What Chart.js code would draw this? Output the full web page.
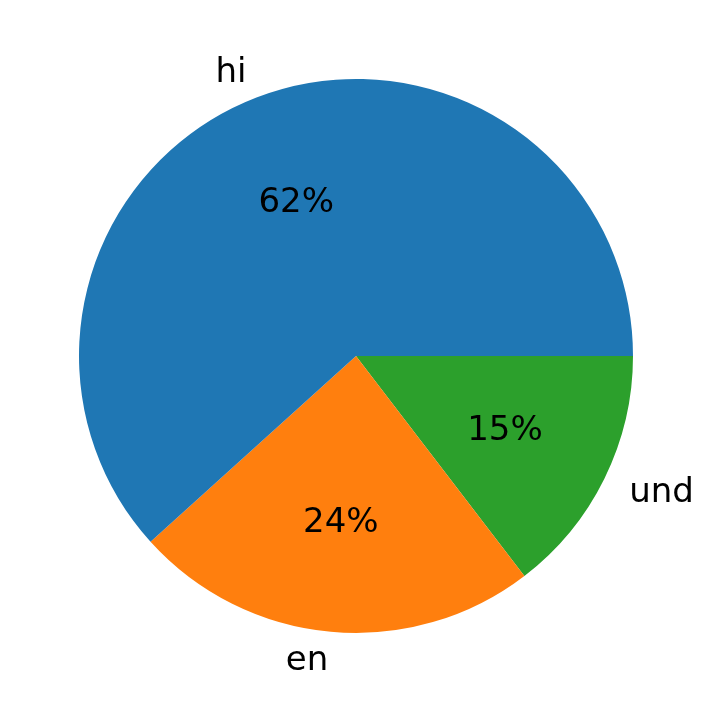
<!DOCTYPE html>
<html lang="en">
<head>
    <meta charset="utf-8">
    <title>Pie chart</title>
    <script src="https://cdn.jsdelivr.net/npm/chart.js@4.4.1/dist/chart.umd.min.js"></script>
    <style>
        html, body { margin: 0; padding: 0; background: #ffffff; }
        #wrap { width: 712px; height: 713px; }
    </style>
</head>
<body>
<div id="wrap"><canvas id="pie-chart"></canvas></div>
<script>
"use strict";

// data in the order matplotlib draws it (counter-clockwise from 3 o'clock)
const languages = ["hi", "en", "und"];
const shares = [61.7, 23.7, 14.6];
const sliceColors = ["#1f77b4", "#ff7f0e", "#2ca02c"];

// chart.js draws clockwise, so reverse to get the same picture
const labelsCw = languages.slice().reverse();
const sharesCw = shares.slice().reverse();
const colorsCw = sliceColors.slice().reverse();

const FONT = "34px 'DejaVu Sans', sans-serif";

// draws the slice labels (outside) and percentages (inside) like autopct
const pieText = {
    id: 'pieText',
    afterDatasetsDraw(chart) {
        const ctx = chart.ctx;
        const meta = chart.getDatasetMeta(0);
        const total = sharesCw.reduce((a, b) => a + b, 0);
        ctx.save();
        ctx.font = FONT;
        ctx.fillStyle = '#000000';
        ctx.textBaseline = 'middle';
        meta.data.forEach((arc, i) => {
            const p = arc.getProps(['x', 'y', 'startAngle', 'endAngle', 'outerRadius'], true);
            const mid = (p.startAngle + p.endAngle) / 2;
            const cx = Math.cos(mid), cy = Math.sin(mid);

            // label at 1.1 r, aligned away from centre
            const lx = p.x + cx * p.outerRadius * 1.1;
            const ly = p.y + cy * p.outerRadius * 1.1 + 2;
            ctx.textAlign = cx >= 0 ? 'left' : 'right';
            ctx.fillText(labelsCw[i], lx, ly);

            // percentage at 0.6 r
            const px = p.x + cx * p.outerRadius * 0.6;
            const py = p.y + cy * p.outerRadius * 0.6 + 2;
            ctx.textAlign = 'center';
            ctx.fillText(Math.round(sharesCw[i] / total * 100) + '%', px, py);
        });
        ctx.restore();
    }
};

new Chart(document.getElementById('pie-chart'), {
    type: 'pie',
    data: {
        labels: labelsCw,
        datasets: [{
            data: sharesCw,
            backgroundColor: colorsCw,
            borderWidth: 0
        }]
    },
    options: {
        responsive: true,
        maintainAspectRatio: false,
        animation: false,
        rotation: 90,
        layout: {
            padding: { left: 79, right: 79, top: 79, bottom: 80 }
        },
        plugins: {
            legend: { display: false },
            tooltip: { enabled: false }
        }
    },
    plugins: [pieText]
});
</script>
</body>
</html>
